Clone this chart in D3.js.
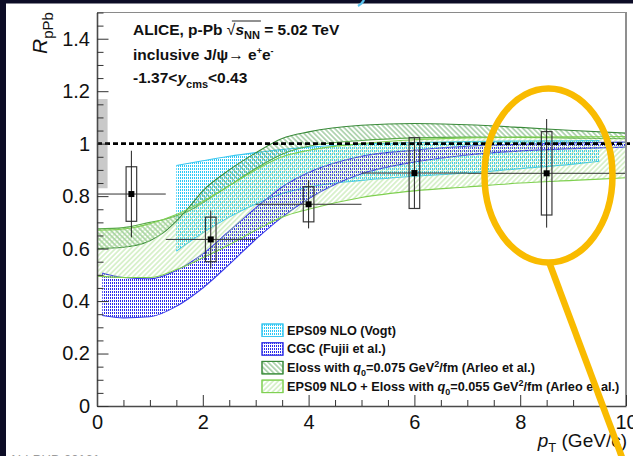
<!DOCTYPE html>
<html><head><meta charset="utf-8">
<script src="https://cdn.jsdelivr.net/npm/d3@7"></script>
<style>
body{margin:0;background:#fff;}
svg{display:block;}
text{font-family:"Liberation Sans",Arial,Helvetica,sans-serif;}
</style></head><body>
<svg id="c" width="633" height="456"></svg>
<script>
// axis setup
const xDomain = [0, 10];
const yDomain = [0, 1.5];
const xMajorTicks = [0, 2, 4, 6, 8, 10];
const xTickLabels = ["0", "2", "4", "6", "8", "10"];
const yMajorTicks = [0, 0.2, 0.4, 0.6, 0.8, 1, 1.2, 1.4];
const yTickLabels = ["0", "0.2", "0.4", "0.6", "0.8", "1", "1.2", "1.4"];

// measured inclusive J/psi R_pPb, -1.37 < y_cms < 0.43
const ptCenter = [0.65, 2.15, 4.0, 6.0, 8.5];
const ptLow    = [0.0, 1.3, 3.0, 5.0, 7.0];
const ptHigh   = [1.3, 3.0, 5.0, 7.0, 10.0];
const rpPb     = [0.808, 0.635, 0.769, 0.888, 0.887];
const statErr  = [0.165, 0.110, 0.092, 0.133, 0.207];
const sysErr   = [0.104, 0.085, 0.067, 0.135, 0.159];
const globalErr = 0.17;

// EPS09 NLO (Vogt)
const eps09Pt = [1.5, 2, 2.5, 3, 3.5, 4, 5, 6, 7, 8, 9, 9.5];
const eps09Lo = [0.59, 0.66, 0.72, 0.77, 0.81, 0.835, 0.86, 0.876, 0.888, 0.905, 0.922, 0.933];
const eps09Hi = [0.917, 0.935, 0.952, 0.966, 0.978, 0.987, 0.998, 1.004, 1.008, 1.010, 1.011, 1.012];

// CGC (Fujii et al.)
const cgcPt = [0.1, 0.5, 1.0, 1.5, 2.0, 2.5, 3.0, 3.5, 4.0, 5, 6, 7, 8, 9, 10];
const cgcLo = [0.345, 0.336, 0.340, 0.380, 0.450, 0.540, 0.635, 0.720, 0.790, 0.885, 0.930, 0.957, 0.972, 0.981, 0.987];
const cgcHi = [0.507, 0.490, 0.485, 0.517, 0.580, 0.667, 0.755, 0.835, 0.890, 0.952, 0.975, 0.990, 0.998, 1.003, 1.006];

// Eloss with q0 = 0.075 GeV^2/fm (Arleo et al.)
const elossPt = [0, 0.5, 1.0, 1.25, 1.5, 1.75, 2.0, 2.5, 3.0, 3.5, 4, 5, 6, 7, 8, 9, 10];
const elossA  = [0.600, 0.605, 0.630, 0.660, 0.705, 0.760, 0.820, 0.900, 0.965, 1.020, 1.045, 1.070, 1.077, 1.072, 1.062, 1.050, 1.040];
const elossB  = [0.675, 0.680, 0.700, 0.710, 0.725, 0.745, 0.775, 0.840, 0.905, 0.960, 0.990, 1.012, 1.022, 1.025, 1.024, 1.021, 1.019];

// EPS09 NLO + Eloss with q0 = 0.055 GeV^2/fm (Arleo et al.)
const epsElossPt = [0, 0.5, 1.0, 1.5, 2.0, 2.5, 3.0, 3.5, 4, 5, 6, 7, 8, 9, 10];
const epsElossLo = [0.495, 0.490, 0.490, 0.520, 0.565, 0.615, 0.670, 0.720, 0.750, 0.795, 0.820, 0.835, 0.850, 0.860, 0.870];
const epsElossHi = [0.670, 0.675, 0.695, 0.730, 0.780, 0.840, 0.900, 0.950, 0.975, 1.000, 1.015, 1.022, 1.025, 1.026, 1.027];

const svg = d3.select("#c");
const W = 633, H = 456;
const x = d3.scaleLinear().domain(xDomain).range([97, 626]);
const y = d3.scaleLinear().domain(yDomain).range([406, 12.5]);

svg.append("rect").attr("width", W).attr("height", H).attr("fill", "#fff");

const defs = svg.append("defs");
defs.append("clipPath").attr("id", "plotClip").append("rect")
  .attr("x", x(0)).attr("y", y(1.5)).attr("width", x(10) - x(0)).attr("height", y(0) - y(1.5));

// columns of small dots, as in ROOT fill styles
function dotPattern(id, color, h, dotH) {
  const p = defs.append("pattern").attr("id", id).attr("patternUnits", "userSpaceOnUse")
    .attr("width", 2).attr("height", h);
  p.append("rect").attr("x", 0).attr("y", 0).attr("width", 1).attr("height", dotH)
    .attr("fill", color).attr("shape-rendering", "crispEdges");
}
function hatchPattern(id, color, angle, gap, w) {
  const p = defs.append("pattern").attr("id", id).attr("patternUnits", "userSpaceOnUse")
    .attr("width", gap).attr("height", gap).attr("patternTransform", `rotate(${angle})`);
  p.append("line").attr("x1", gap / 2).attr("y1", 0).attr("x2", gap / 2).attr("y2", gap)
    .attr("stroke", color).attr("stroke-width", w);
}
dotPattern("dotCyan", "#2cc8f6", 3, 2);
dotPattern("dotBlue", "#2b2bea", 3, 2);
hatchPattern("hatchDark", "#4f9f4f", -45, 3.6, 0.8);
hatchPattern("hatchLight", "#a6de88", 45, 3.6, 0.8);

const bands = [
  { pt: eps09Pt, lo: eps09Lo, hi: eps09Hi, fill: "url(#dotCyan)", edge: "#3cc8f0", edgeLo: "#3cc8f0" },
  { pt: cgcPt, lo: cgcLo, hi: cgcHi, fill: "url(#dotBlue)", edge: "#3b3be8", edgeLo: "#3b3be8" },
  { pt: elossPt, lo: elossB, hi: elossA, fill: "url(#hatchDark)", edge: "#3a8a3a", edgeLo: "#5aaa4a" },
  { pt: epsElossPt, lo: epsElossLo, hi: epsElossHi, fill: "url(#hatchLight)", edge: "#7fd050", edgeLo: "#7fd050" }
];

const plot = svg.append("g").attr("clip-path", "url(#plotClip)");

bands.forEach(b => {
  const rows = b.pt.map((p, i) => ({ p, lo: b.lo[i], hi: b.hi[i] }));
  const area = d3.area().x(d => x(d.p)).y0(d => y(d.lo)).y1(d => y(d.hi)).curve(d3.curveMonotoneX);
  const lineHi = d3.line().x(d => x(d.p)).y(d => y(d.hi)).curve(d3.curveMonotoneX);
  const lineLo = d3.line().x(d => x(d.p)).y(d => y(d.lo)).curve(d3.curveMonotoneX);
  plot.append("path").attr("d", area(rows)).attr("fill", b.fill);
  plot.append("path").attr("d", lineHi(rows)).attr("fill", "none").attr("stroke", b.edge).attr("stroke-width", 1.1);
  plot.append("path").attr("d", lineLo(rows)).attr("fill", "none").attr("stroke", b.edgeLo).attr("stroke-width", 1.1);
});

// global normalisation uncertainty at unity
svg.append("rect")
  .attr("x", x(0) + 1).attr("y", y(1 + globalErr))
  .attr("width", x(0.2) - x(0) - 1).attr("height", y(1 - globalErr) - y(1 + globalErr))
  .attr("fill", "#c9c9c9");

// unity reference
svg.append("line")
  .attr("x1", x(0)).attr("x2", x(10.1)).attr("y1", y(1)).attr("y2", y(1))
  .attr("stroke", "#000").attr("stroke-width", 2.6).attr("stroke-dasharray", "5,3");

// data points
const pts = svg.append("g");
rpPb.forEach((v, i) => {
  pts.append("rect")
    .attr("x", x(ptCenter[i] - 0.1)).attr("y", y(v + sysErr[i]))
    .attr("width", x(ptCenter[i] + 0.1) - x(ptCenter[i] - 0.1))
    .attr("height", y(v - sysErr[i]) - y(v + sysErr[i]))
    .attr("fill", "none").attr("stroke", "#3a3a3a").attr("stroke-width", 1.2);
  pts.append("line")
    .attr("x1", x(ptLow[i])).attr("x2", x(ptHigh[i])).attr("y1", y(v)).attr("y2", y(v))
    .attr("stroke", "#333").attr("stroke-width", 1);
  pts.append("line")
    .attr("x1", x(ptCenter[i])).attr("x2", x(ptCenter[i]))
    .attr("y1", y(v + statErr[i])).attr("y2", y(v - statErr[i]))
    .attr("stroke", "#222").attr("stroke-width", 1);
  pts.append("rect")
    .attr("x", x(ptCenter[i]) - 3).attr("y", y(v) - 3).attr("width", 6).attr("height", 6)
    .attr("fill", "#000");
});

// frame
svg.append("line").attr("x1", x(0)).attr("x2", x(10) + 1).attr("y1", y(1.5)).attr("y2", y(1.5))
  .attr("stroke", "#8a8a8a").attr("stroke-width", 1);
svg.append("line").attr("x1", x(10)).attr("x2", x(10)).attr("y1", y(1.5)).attr("y2", y(0))
  .attr("stroke", "#8f8f8f").attr("stroke-width", 2);

// axes with inward ticks
svg.append("g").attr("transform", `translate(0,${y(0)})`)
  .call(d3.axisBottom(x).tickValues(xMajorTicks).tickSizeInner(-11).tickSizeOuter(0).tickPadding(9)
    .tickFormat((d, i) => xTickLabels[i]));
svg.append("g").attr("transform", `translate(0,${y(0)})`)
  .call(d3.axisBottom(x).tickValues(d3.range(0, 10.001, 0.5).filter(v => Math.abs(v / 2 - Math.round(v / 2)) > 1e-6))
    .tickSizeInner(-6).tickSizeOuter(0).tickFormat(""))
  .call(g => g.select(".domain").remove());
svg.append("g").attr("transform", `translate(${x(0)},0)`)
  .call(d3.axisLeft(y).tickValues(yMajorTicks).tickSizeInner(-11.5).tickSizeOuter(0).tickPadding(7)
    .tickFormat((d, i) => yTickLabels[i]));
svg.append("g").attr("transform", `translate(${x(0)},0)`)
  .call(d3.axisLeft(y).tickValues(d3.range(0, 1.5001, 0.05).filter(v => Math.abs(v * 5 - Math.round(v * 5)) > 1e-6))
    .tickSizeInner(-6.5).tickSizeOuter(0).tickFormat(""))
  .call(g => g.select(".domain").remove());

svg.selectAll(".domain").attr("stroke", "#4a4a4a").attr("stroke-width", 1.6);
svg.selectAll(".tick line").attr("stroke", "#333").attr("stroke-width", 1);
svg.selectAll(".tick text").attr("font-size", 20).attr("fill", "#111")
  .attr("font-family", '"Liberation Sans",Arial,sans-serif');

// axis titles
const yt = svg.append("text").attr("transform", "translate(47,54) rotate(-90)")
  .attr("font-size", 21).attr("fill", "#111");
yt.append("tspan").attr("font-style", "italic").text("R");
yt.append("tspan").attr("font-size", 15).attr("dy", 6).text("pPb");

const xt = svg.append("text").attr("x", 627).attr("y", 447).attr("text-anchor", "end")
  .attr("font-size", 19).attr("fill", "#111");
xt.append("tspan").attr("font-style", "italic").text("p");
xt.append("tspan").attr("font-size", 13).attr("dy", 5).text("T");
xt.append("tspan").attr("dy", -5).text(" (GeV/c)");

// header text
const hdr = svg.append("g").attr("font-weight", "bold").attr("fill", "#111");
const t1 = hdr.append("text").attr("x", 133).attr("y", 35).attr("font-size", 15.5);
t1.append("tspan").text("ALICE, p-Pb ");
t1.append("tspan").attr("font-weight", "normal").text("√");
t1.append("tspan").attr("font-style", "italic").text("s");
t1.append("tspan").attr("font-size", 11).attr("dy", 4).text("NN");
t1.append("tspan").attr("dy", -4).text(" = 5.02 TeV");
{
  const node = t1.node();
  const xs = 133 + node.getSubStringLength(0, 12);
  const xe = 133 + node.getSubStringLength(0, 16);
  hdr.append("line").attr("x1", xs + 5).attr("x2", xe + 1).attr("y1", 21).attr("y2", 21)
    .attr("stroke", "#222").attr("stroke-width", 1);
}
const t2 = hdr.append("text").attr("x", 133).attr("y", 60).attr("font-size", 15.5);
t2.append("tspan").text("inclusive J/ψ→ e");
t2.append("tspan").attr("font-size", 9).attr("dy", -6).text("+");
t2.append("tspan").attr("dy", 6).text("e");
t2.append("tspan").attr("font-size", 9).attr("dy", -6).text("-");
const t3 = hdr.append("text").attr("x", 133).attr("y", 83).attr("font-size", 15.5);
t3.append("tspan").text("-1.37<");
t3.append("tspan").attr("font-style", "italic").text("y");
t3.append("tspan").attr("font-size", 11).attr("dy", 5).text("cms");
t3.append("tspan").attr("dy", -5).text("<0.43");

// legend
const legendFills = ["url(#dotCyan)", "url(#dotBlue)", "url(#hatchDark)", "url(#hatchLight)"];
const legendEdges = ["#3cc8f0", "#3b3be8", "#3a8a3a", "#7fd050"];
const lg = svg.append("g");
legendFills.forEach((f, i) => {
  lg.append("rect").attr("x", 262).attr("y", 324 + i * 18.7).attr("width", 21).attr("height", 12.5)
    .attr("fill", "#fff").attr("stroke", legendEdges[i]).attr("stroke-width", 1);
  lg.append("rect").attr("x", 262).attr("y", 324 + i * 18.7).attr("width", 21).attr("height", 12.5)
    .attr("fill", f).attr("stroke", legendEdges[i]).attr("stroke-width", 1);
});
const lt = lg.append("g").attr("font-weight", "bold").attr("font-size", 12.7).attr("fill", "#111");
lt.append("text").attr("x", 287).attr("y", 334.5).text("EPS09 NLO (Vogt)");
lt.append("text").attr("x", 287).attr("y", 353.2).text("CGC (Fujii et al.)");
{
  const e = lt.append("text").attr("x", 287).attr("y", 371.9);
  e.append("tspan").text("Eloss with  ");
  e.append("tspan").attr("font-style", "italic").text("q");
  e.append("tspan").attr("font-size", 9).attr("dy", 4).text("0");
  e.append("tspan").attr("dy", -4).text("=0.075 GeV");
  e.append("tspan").attr("font-size", 9).attr("dy", -5).text("2");
  e.append("tspan").attr("dy", 5).text("/fm (Arleo et al.)");
}
{
  const e = lt.append("text").attr("x", 287).attr("y", 390.6);
  e.append("tspan").text("EPS09 NLO + Eloss with  ");
  e.append("tspan").attr("font-style", "italic").text("q");
  e.append("tspan").attr("font-size", 9).attr("dy", 4).text("0");
  e.append("tspan").attr("dy", -4).text("=0.055 GeV");
  e.append("tspan").attr("font-size", 9).attr("dy", -5).text("2");
  e.append("tspan").attr("dy", 5).text("/fm (Arleo et al.)");
}

// slide chrome
svg.append("rect").attr("x", 0).attr("y", 0).attr("width", W).attr("height", 3.5).attr("fill", "#0c0c26");
svg.append("rect").attr("x", 0).attr("y", 0).attr("width", 6).attr("height", H).attr("fill", "#0c0c26");
svg.append("path").attr("d", "M364,0 Q362,4 358,6").attr("fill", "none")
  .attr("stroke", "#5cc3ee").attr("stroke-width", 2.5);
svg.append("text").attr("x", 9).attr("y", 464).attr("font-size", 13).attr("fill", "#9a9a9a")
  .text("ALI-PUB-00161");

// highlight around the last bin
svg.append("ellipse").attr("cx", 548.5).attr("cy", 175.5).attr("rx", 64).attr("ry", 87)
  .attr("fill", "none").attr("stroke", "#f9bb00").attr("stroke-width", 6.5);
svg.append("line").attr("x1", 549).attr("y1", 262).attr("x2", 623).attr("y2", 460)
  .attr("stroke", "#f9bb00").attr("stroke-width", 6.5);
</script></body></html>
